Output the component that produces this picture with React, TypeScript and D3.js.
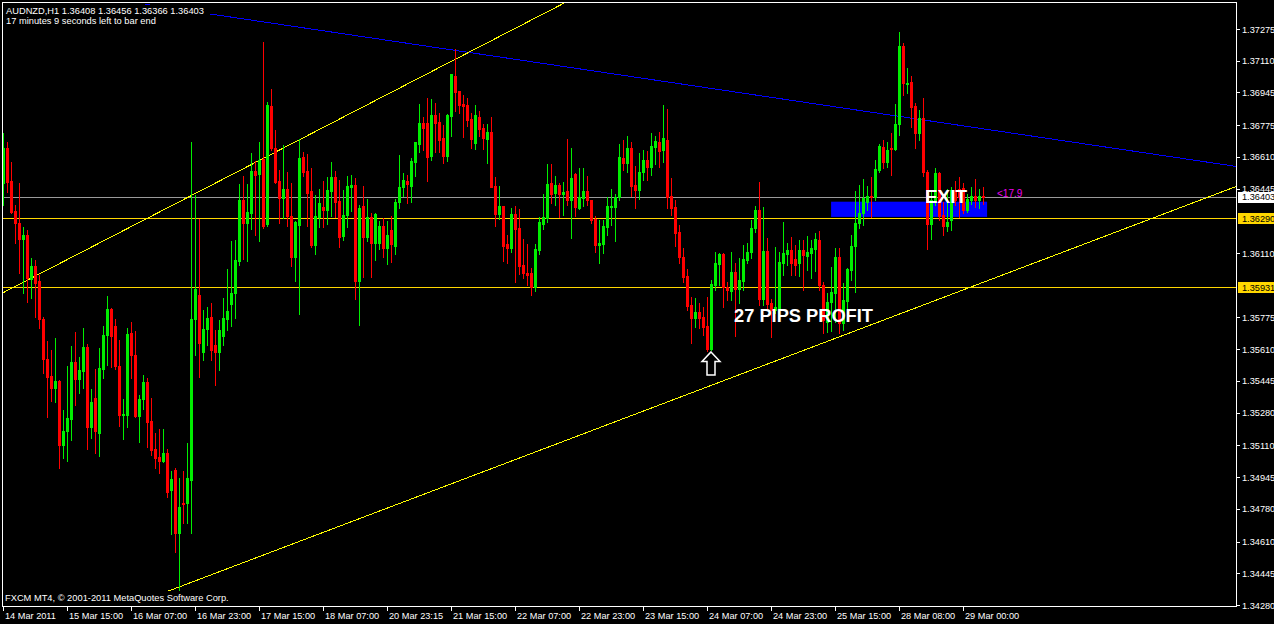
import React from "react";
import * as d3 from "d3";

// AUDNZD H1 bars, oldest first
const openPrices = [
  1.36474, 1.36656, 1.36485, 1.36329, 1.36266, 1.36183, 1.36204, 1.35975, 1.36043, 1.35965,
  1.35767, 1.35559, 1.35471, 1.35408, 1.35445, 1.35112, 1.35185, 1.35247, 1.35544, 1.35455,
  1.35497, 1.35622, 1.35206, 1.35356, 1.35174, 1.35507, 1.35684, 1.35819, 1.35731, 1.35523,
  1.35268, 1.35268, 1.35694, 1.3558, 1.35263, 1.35351, 1.3544, 1.35237, 1.35091, 1.3505,
  1.35029, 1.3507, 1.34878, 1.34982, 1.34654, 1.3481, 1.3481, 1.3493, 1.35767, 1.35892,
  1.35596, 1.35715, 1.35778, 1.35632, 1.35596, 1.35679, 1.35767, 1.35845, 1.35902, 1.36069,
  1.36386, 1.36266, 1.36318, 1.36537, 1.36521, 1.36599, 1.36261, 1.36875, 1.36656, 1.36485,
  1.36396, 1.36443, 1.36303, 1.3609, 1.36256, 1.3661, 1.36537, 1.36433, 1.36152, 1.36298,
  1.3635, 1.36334, 1.36433, 1.36506, 1.36381, 1.36199, 1.36308, 1.36454, 1.36464, 1.35965,
  1.36355, 1.36194, 1.36298, 1.36162, 1.36162, 1.36251, 1.36136, 1.3623, 1.36147, 1.36376,
  1.36454, 1.36485, 1.36459, 1.36584, 1.36677, 1.36786, 1.36786, 1.36615, 1.36828, 1.36792,
  1.36708, 1.36615, 1.36823, 1.37031, 1.36953, 1.36885, 1.3688, 1.36807, 1.36682, 1.36818,
  1.3676, 1.36703, 1.3674, 1.36459, 1.36313, 1.36355, 1.36157, 1.36136, 1.36313, 1.3624,
  1.36048, 1.36006, 1.36006, 1.35934, 1.36126, 1.36261, 1.36292, 1.36474, 1.36422, 1.36464,
  1.36417, 1.36433, 1.36386, 1.36521, 1.36344, 1.36396, 1.36433, 1.36386, 1.36287, 1.36152,
  1.36157, 1.36246, 1.3635, 1.3635, 1.36402, 1.36604, 1.36578, 1.36656, 1.36464, 1.36438,
  1.36532, 1.36594, 1.36558, 1.36662, 1.36688, 1.36646, 1.36698, 1.36407, 1.3635, 1.3622,
  1.3609, 1.35991, 1.3584, 1.35772, 1.35804, 1.35778, 1.35731, 1.35611, 1.35944, 1.36053,
  1.36105, 1.35934, 1.35913, 1.36012, 1.35923, 1.35965, 1.36074, 1.36116, 1.3624, 1.36334,
  1.35871, 1.36121, 1.3585, 1.35814, 1.35824, 1.36058, 1.36105, 1.36126, 1.36079, 1.36058,
  1.36126, 1.36095, 1.3611, 1.36131, 1.36178, 1.35944, 1.35752, 1.35856, 1.35902, 1.3609,
  1.35746, 1.35861, 1.36022, 1.36147, 1.36266, 1.36318, 1.36376, 1.36407, 1.36402, 1.36542,
  1.36662, 1.36584, 1.36656, 1.36651, 1.36781, 1.37187, 1.36989, 1.37, 1.36875, 1.36734,
  1.36812, 1.36532, 1.36261, 1.36386, 1.36526, 1.36308, 1.36251, 1.36282, 1.36438, 1.36443,
  1.36448, 1.36334, 1.36386, 1.36407, 1.36386, 1.36408,
];

const highPrices = [
  1.36734, 1.36688, 1.36584, 1.3636, 1.36474, 1.36246, 1.3623, 1.36084, 1.36074, 1.35996,
  1.35778, 1.35653, 1.35606, 1.35668, 1.3545, 1.35294, 1.35523, 1.35627, 1.357, 1.3557,
  1.3572, 1.35637, 1.35403, 1.35507, 1.35616, 1.35731, 1.35887, 1.35824, 1.35767, 1.35658,
  1.35351, 1.3572, 1.35752, 1.35705, 1.35372, 1.35476, 1.3546, 1.35356, 1.35174, 1.35195,
  1.35195, 1.35091, 1.34977, 1.34992, 1.3494, 1.34977, 1.35122, 1.36688, 1.36412, 1.36287,
  1.35814, 1.3583, 1.3585, 1.3571, 1.35762, 1.35876, 1.36027, 1.36173, 1.36178, 1.36469,
  1.36511, 1.36469, 1.3663, 1.36589, 1.36688, 1.37208, 1.36896, 1.36963, 1.3675, 1.36542,
  1.36672, 1.36532, 1.36474, 1.36277, 1.36703, 1.36636, 1.36625, 1.36552, 1.36412, 1.36443,
  1.36485, 1.36506, 1.36584, 1.36537, 1.3649, 1.36438, 1.36511, 1.36516, 1.365, 1.3636,
  1.36459, 1.36391, 1.36318, 1.36318, 1.36277, 1.36292, 1.36277, 1.36303, 1.36391, 1.3662,
  1.36526, 1.36516, 1.36604, 1.36688, 1.36885, 1.36818, 1.36916, 1.36911, 1.3689, 1.36838,
  1.36776, 1.36833, 1.37041, 1.37171, 1.36953, 1.36932, 1.36916, 1.36838, 1.3688, 1.36849,
  1.36781, 1.36781, 1.36818, 1.36506, 1.36459, 1.36355, 1.36204, 1.36344, 1.36355, 1.36339,
  1.36183, 1.36157, 1.36032, 1.36157, 1.36298, 1.36417, 1.36573, 1.36573, 1.36511, 1.36474,
  1.3648, 1.36703, 1.36656, 1.36526, 1.36552, 1.36552, 1.36511, 1.36386, 1.36303, 1.36282,
  1.36282, 1.36402, 1.36443, 1.36417, 1.36677, 1.36698, 1.36719, 1.36688, 1.36563, 1.3663,
  1.36646, 1.36641, 1.36734, 1.36719, 1.3674, 1.3688, 1.36859, 1.365, 1.36386, 1.36256,
  1.36136, 1.36027, 1.35882, 1.35876, 1.3585, 1.3583, 1.35882, 1.3597, 1.36116, 1.3611,
  1.3611, 1.3596, 1.36116, 1.36058, 1.36084, 1.36152, 1.36162, 1.36282, 1.36355, 1.3648,
  1.3635, 1.36188, 1.35871, 1.36142, 1.36116, 1.36272, 1.36162, 1.36194, 1.36152, 1.36178,
  1.36178, 1.36199, 1.36178, 1.36214, 1.36225, 1.3596, 1.35902, 1.36038, 1.36136, 1.36136,
  1.35954, 1.36032, 1.36204, 1.36433, 1.36464, 1.36495, 1.36459, 1.36506, 1.36594, 1.36677,
  1.36698, 1.36688, 1.36734, 1.36885, 1.3726, 1.37202, 1.37072, 1.37031, 1.3689, 1.36854,
  1.36916, 1.36542, 1.36438, 1.36552, 1.36532, 1.36376, 1.36443, 1.36454, 1.36485, 1.36506,
  1.36474, 1.36417, 1.36454, 1.36495, 1.36443, 1.36456,
];

const lowPrices = [
  1.3636, 1.36428, 1.36318, 1.36162, 1.36006, 1.35902, 1.35856, 1.35876, 1.35778, 1.3572,
  1.35486, 1.35258, 1.35341, 1.35336, 1.34992, 1.35044, 1.35029, 1.35138, 1.3532, 1.35382,
  1.35408, 1.35091, 1.35148, 1.3507, 1.35055, 1.3546, 1.35528, 1.35518, 1.35507, 1.35211,
  1.35143, 1.35206, 1.3546, 1.35258, 1.35128, 1.35299, 1.35102, 1.3506, 1.34992, 1.34966,
  1.35024, 1.34842, 1.34649, 1.34556, 1.34358, 1.34706, 1.34706, 1.34654, 1.3558, 1.35466,
  1.35554, 1.35632, 1.35554, 1.35424, 1.35502, 1.35632, 1.3571, 1.35731, 1.35772, 1.36048,
  1.36079, 1.36069, 1.36235, 1.36204, 1.36173, 1.3624, 1.36251, 1.36646, 1.36474, 1.36266,
  1.36292, 1.36251, 1.36043, 1.35965, 1.35793, 1.36511, 1.36251, 1.36142, 1.36105, 1.36246,
  1.36246, 1.36261, 1.36303, 1.36298, 1.36142, 1.36178, 1.36246, 1.36329, 1.35871, 1.35736,
  1.35986, 1.36173, 1.35986, 1.36074, 1.36131, 1.3609, 1.36053, 1.36064, 1.36105, 1.36344,
  1.36407, 1.3637, 1.36376, 1.36511, 1.36636, 1.36646, 1.36485, 1.36594, 1.36636, 1.36636,
  1.36578, 1.36589, 1.36719, 1.36849, 1.36838, 1.36714, 1.36771, 1.36656, 1.36651, 1.36719,
  1.36651, 1.36578, 1.36454, 1.36251, 1.36287, 1.36069, 1.36058, 1.36116, 1.3596, 1.36001,
  1.3598, 1.35944, 1.35892, 1.35913, 1.36105, 1.36235, 1.36272, 1.3637, 1.3636, 1.36298,
  1.36308, 1.3636, 1.36188, 1.36303, 1.36339, 1.36355, 1.3636, 1.36266, 1.36116, 1.36058,
  1.3611, 1.36204, 1.36256, 1.36173, 1.36386, 1.36542, 1.36532, 1.36407, 1.36344, 1.36391,
  1.3649, 1.3649, 1.36516, 1.36573, 1.36558, 1.36584, 1.36344, 1.36308, 1.36147, 1.36058,
  1.3596, 1.35814, 1.35642, 1.35726, 1.3572, 1.35684, 1.35601, 1.35606, 1.35918, 1.35944,
  1.3583, 1.35866, 1.35866, 1.35679, 1.3585, 1.35918, 1.36058, 1.36084, 1.3622, 1.3584,
  1.3584, 1.35814, 1.35674, 1.35798, 1.35814, 1.35996, 1.36048, 1.35996, 1.35996, 1.35991,
  1.35918, 1.36022, 1.3598, 1.36017, 1.35918, 1.35694, 1.357, 1.35705, 1.35752, 1.35694,
  1.3571, 1.35814, 1.3597, 1.35908, 1.3624, 1.36256, 1.36334, 1.36298, 1.36386, 1.36532,
  1.36552, 1.36558, 1.36516, 1.36646, 1.36724, 1.36932, 1.36942, 1.36766, 1.36656, 1.36698,
  1.36511, 1.36131, 1.36183, 1.3636, 1.36282, 1.36204, 1.36225, 1.3623, 1.3636, 1.36298,
  1.36318, 1.36324, 1.36365, 1.3635, 1.36344, 1.36366,
];

const closePrices = [
  1.36656, 1.3648, 1.36324, 1.36266, 1.36183, 1.36204, 1.3598, 1.36043, 1.35954, 1.35767,
  1.35559, 1.35466, 1.35408, 1.35445, 1.35112, 1.35185, 1.35252, 1.35544, 1.35455, 1.35502,
  1.35622, 1.35206, 1.35336, 1.35185, 1.35512, 1.35684, 1.35819, 1.35679, 1.35523, 1.35268,
  1.35273, 1.35689, 1.3558, 1.35263, 1.35351, 1.3544, 1.35232, 1.35086, 1.35044, 1.35029,
  1.3507, 1.34868, 1.34935, 1.34654, 1.3479, 1.34805, 1.3494, 1.35767, 1.35923, 1.35642,
  1.35715, 1.35772, 1.35606, 1.35596, 1.3571, 1.35772, 1.35809, 1.35902, 1.36074, 1.36386,
  1.36266, 1.36324, 1.36537, 1.36516, 1.36594, 1.36251, 1.3688, 1.36656, 1.3648, 1.36396,
  1.36443, 1.36303, 1.3609, 1.36272, 1.36604, 1.36532, 1.36422, 1.36152, 1.36303, 1.3637,
  1.36334, 1.36438, 1.36506, 1.36376, 1.36194, 1.36308, 1.36459, 1.36464, 1.35965, 1.36344,
  1.36194, 1.36298, 1.36162, 1.36313, 1.36251, 1.36136, 1.36204, 1.36157, 1.36376, 1.36454,
  1.3649, 1.36469, 1.36589, 1.36688, 1.36786, 1.3676, 1.3661, 1.36828, 1.36786, 1.36698,
  1.36615, 1.36828, 1.37041, 1.36948, 1.3688, 1.36875, 1.36802, 1.36703, 1.36828, 1.36755,
  1.36708, 1.3674, 1.36454, 1.36313, 1.36355, 1.36147, 1.36136, 1.36313, 1.36235, 1.36043,
  1.36006, 1.35996, 1.35934, 1.36131, 1.36272, 1.36298, 1.36469, 1.36417, 1.36464, 1.36417,
  1.36428, 1.36386, 1.365, 1.3635, 1.36402, 1.36433, 1.36386, 1.36282, 1.36152, 1.36162,
  1.36251, 1.36355, 1.36355, 1.36402, 1.3661, 1.36578, 1.36656, 1.36459, 1.36438, 1.36532,
  1.36594, 1.36558, 1.36667, 1.36693, 1.36641, 1.36708, 1.36402, 1.36344, 1.36214, 1.3609,
  1.35986, 1.35835, 1.35772, 1.35804, 1.35772, 1.35726, 1.35611, 1.35949, 1.36058, 1.36105,
  1.35934, 1.35918, 1.36012, 1.35923, 1.3597, 1.36079, 1.36116, 1.3624, 1.36334, 1.35871,
  1.36121, 1.35845, 1.35814, 1.3583, 1.36064, 1.3611, 1.36126, 1.36058, 1.36048, 1.36126,
  1.361, 1.36116, 1.36136, 1.36183, 1.35944, 1.35762, 1.35856, 1.35908, 1.3609, 1.35746,
  1.35866, 1.36027, 1.36147, 1.36266, 1.36318, 1.36396, 1.36407, 1.36402, 1.36547, 1.36667,
  1.36584, 1.36646, 1.36651, 1.36781, 1.37187, 1.36994, 1.36994, 1.3687, 1.36734, 1.36812,
  1.36532, 1.36261, 1.36386, 1.36526, 1.36303, 1.36251, 1.36272, 1.36438, 1.36386, 1.36402,
  1.36334, 1.36391, 1.36407, 1.36386, 1.36407, 1.36403,
];

// Time axis: a label every 16 bars
const timeLabels = [
  "14 Mar 2011", "15 Mar 15:00", "16 Mar 07:00", "16 Mar 23:00", "17 Mar 15:00", "18 Mar 07:00",
  "20 Mar 23:15", "21 Mar 15:00", "22 Mar 07:00", "22 Mar 23:00", "23 Mar 15:00", "24 Mar 07:00",
  "24 Mar 23:00", "25 Mar 15:00", "28 Mar 08:00", "29 Mar 00:00",
];
const timeLabelBars = [0, 16, 32, 48, 64, 80, 96, 112, 128, 144, 160, 176, 192, 208, 224, 240];

// Price axis
const priceTicks = [
  1.37275, 1.3711, 1.36945, 1.36775, 1.3661, 1.36445, 1.3611, 1.35775, 1.3561, 1.35445,
  1.3528, 1.3511, 1.34945, 1.3478, 1.3461, 1.34445, 1.3428,
];
const bidPrice = 1.36403;
const levelPrices = [1.3629, 1.35931];

// Drawn objects: trend lines as [bar, price] anchor pairs
const resistanceLine = [[35.5, 1.37403], [308, 1.36561]];
const upperChannelLine = [[0, 1.35905], [140, 1.37408]];
const supportLine = [[41, 1.34351], [248, 1.35982]];
const exitZoneBars = [206.9, 245.9];
const exitZonePrices = [1.36298, 1.36377];
const entryArrow = { bar: 177, price: 1.35596 };

const symbolLine = "AUDNZD,H1  1.36408 1.36456 1.36366 1.36403";
const timerLine = "17 minutes 9 seconds left to bar end";
const copyright = "FXCM MT4, \u00a9 2001-2011 MetaQuotes Software Corp.";

const W = 1274;
const H = 624;
const LEFT = 2;
const RIGHT = 1236;
const TOP = 2;
const BOTTOM = 606;
const BULL = "#00ee00";
const BEAR = "#ff0000";
const GOLD = "#ffd700";
const FONT = "'Liberation Sans', Arial, sans-serif";

export default function App() {
  const x = d3.scaleLinear().domain([0, 1]).range([3.5, 7.5]);
  const y = d3.scaleLinear().domain([1.3428, 1.37275]).range([605, 29]);

  const crisp = (v: number) => Math.round(v) + 0.5;

  const ray = (pts: number[][], fromBar: number, toBar: number) => {
    const [[b1, p1], [b2, p2]] = pts;
    const slope = (p2 - p1) / (b2 - b1);
    const pAt = (b: number) => p1 + (b - b1) * slope;
    return { x1: x(fromBar), y1: y(pAt(fromBar)), x2: x(toBar), y2: y(pAt(toBar)) };
  };
  const lastBar = x.invert(RIGHT);
  const blue = ray(resistanceLine, resistanceLine[0][0], lastBar);
  const yUp = ray(upperChannelLine, x.invert(LEFT), 200);
  const yLow = ray(supportLine, supportLine[0][0], lastBar);

  const ax = x(entryArrow.bar) - 0.5;
  const ay = y(entryArrow.price);
  const arrowPath = [
    [ax, ay], [ax + 9, ay + 9.5], [ax + 4, ay + 9.5], [ax + 4, ay + 23],
    [ax - 4, ay + 23], [ax - 4, ay + 9.5], [ax - 9, ay + 9.5],
  ].map((p) => p.join(",")).join(" ");

  return (
    <svg width={W} height={H} style={{ position: "absolute", left: 0, top: 0, display: "block" }} fontFamily={FONT}>
      <defs>
        <clipPath id="plot">
          <rect x={LEFT} y={TOP} width={RIGHT - LEFT} height={BOTTOM - TOP} />
        </clipPath>
      </defs>
      <rect x={0} y={0} width={W} height={H} fill="#000" />

      <g clipPath="url(#plot)">
        {/* horizontal levels */}
        <line x1={LEFT} x2={RIGHT} y1={crisp(y(bidPrice))} y2={crisp(y(bidPrice))} stroke="#9a9a9a" />
        {levelPrices.map((p) => (
          <line key={p} x1={LEFT} x2={RIGHT} y1={crisp(y(p))} y2={crisp(y(p))} stroke={GOLD} />
        ))}

        {/* exit zone */}
        <rect
          x={x(exitZoneBars[0])}
          y={y(exitZonePrices[1])}
          width={x(exitZoneBars[1]) - x(exitZoneBars[0])}
          height={y(exitZonePrices[0]) - y(exitZonePrices[1])}
          fill="#0000ff"
        />

        {/* trend lines */}
        <line {...blue} stroke="#0000ff" strokeWidth={1} shapeRendering="crispEdges" />
        <line {...yUp} stroke="#ffff00" strokeWidth={1} shapeRendering="crispEdges" />
        <line {...yLow} stroke="#ffff00" strokeWidth={1} shapeRendering="crispEdges" />

        {/* candles */}
        <g shapeRendering="crispEdges">
          {openPrices.map((o, i) => {
            const c = closePrices[i];
            const col = c >= o ? BULL : BEAR;
            const xc = x(i);
            const top = Math.round(Math.min(y(o), y(c)));
            const bot = Math.round(Math.max(y(o), y(c)));
            return (
              <g key={i}>
                <rect
                  x={xc - 0.5}
                  y={Math.round(y(highPrices[i]))}
                  width={1}
                  height={Math.max(1, Math.round(y(lowPrices[i])) - Math.round(y(highPrices[i])) + 1)}
                  fill={col}
                />
                <rect x={xc - 1.5} y={top} width={3} height={Math.max(1, bot - top + 1)} fill={col} />
              </g>
            );
          })}
        </g>

        {/* entry arrow */}
        <polygon points={arrowPath} fill="#000" stroke="#fff" strokeWidth={1.5} strokeLinejoin="miter" />

        {/* annotations */}
        <text x={734} y={322} fill="#fff" fontSize={18} fontWeight="bold" textLength={139} lengthAdjust="spacingAndGlyphs">
          27 PIPS PROFIT
        </text>
        <text x={925} y={203} fill="#fff" fontSize={19} fontWeight="bold" textLength={42} lengthAdjust="spacingAndGlyphs">
          EXIT
        </text>
        <text x={997} y={197} fill="#ee00ee" fontSize={10}>
          {"<17.9"}
        </text>

        {/* header */}
        <rect x={5} y={5} width={205} height={11} fill="#000" />
        <text x={6} y={14} fill="#fff" fontSize={9.3}>{symbolLine}</text>
        <text x={6} y={24} fill="#fff" fontSize={9.3}>{timerLine}</text>
        <text x={5} y={601} fill="#fff" fontSize={9.3}>{copyright}</text>
      </g>

      {/* frame */}
      <rect x={LEFT + 0.5} y={TOP + 0.5} width={RIGHT - LEFT} height={BOTTOM - TOP} fill="none" stroke="#fff" shapeRendering="crispEdges" />

      {/* price axis */}
      {priceTicks.map((p) => (
        <g key={p}>
          <line x1={RIGHT + 1} x2={RIGHT + 4} y1={crisp(y(p))} y2={crisp(y(p))} stroke="#fff" />
          <text x={RIGHT + 6} y={y(p) + 3.5} fill="#fff" fontSize={9.2}>
            {p.toFixed(5)}
          </text>
        </g>
      ))}
      {levelPrices.map((p) => (
        <g key={"lv" + p}>
          <rect x={RIGHT + 2} y={Math.round(y(p)) - 5} width={W - RIGHT} height={11} fill={GOLD} />
          <text x={RIGHT + 6} y={y(p) + 3.5} fill="#000" fontSize={9.2}>{p.toFixed(5)}</text>
        </g>
      ))}
      <rect x={RIGHT + 2} y={Math.round(y(bidPrice)) - 5} width={W - RIGHT} height={11} fill="#fff" />
      <text x={RIGHT + 6} y={y(bidPrice) + 3.5} fill="#000" fontSize={9.2}>{bidPrice.toFixed(5)}</text>

      {/* time axis */}
      {timeLabelBars.map((b, k) => (
        <g key={b}>
          <line x1={crisp(x(b) - 0.5)} x2={crisp(x(b) - 0.5)} y1={BOTTOM} y2={BOTTOM + 5} stroke="#fff" />
          <text x={x(b) + 1.5} y={619} fill="#fff" fontSize={9.2}>{timeLabels[k]}</text>
        </g>
      ))}
    </svg>
  );
}
